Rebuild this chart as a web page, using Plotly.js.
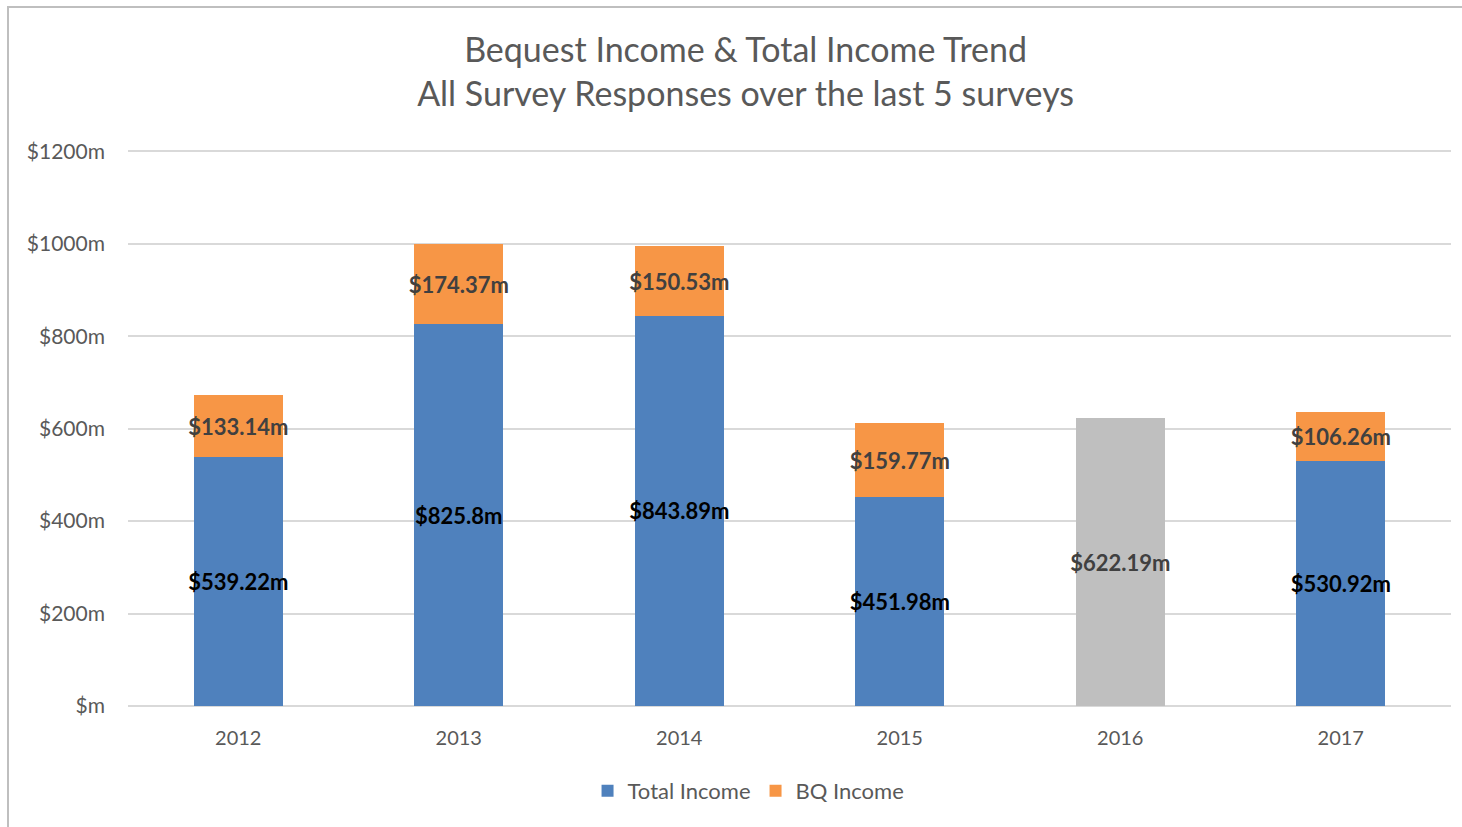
<!DOCTYPE html>
<html>
<head>
<meta charset="utf-8">
<script src="https://cdn.plot.ly/plotly-3.0.1.min.js"></script>
<style>
  html, body { margin: 0; padding: 0; background: #fff; }
  #chart { width: 1462px; height: 827px; }
  #frame { position: absolute; left: 7px; top: 6px; width: 1455px; height: 821px;
           border-left: 2px solid #BFBFBF; border-top: 2px solid #BFBFBF; pointer-events: none; }
</style>
</head>
<body>
<div id="chart"></div>
<div id="frame"></div>
<script>
const years = ['2012', '2013', '2014', '2015', '2016', '2017'];
const totalIncome = [539.22, 825.8, 843.89, 451.98, null, 530.92];
const bqIncome = [133.14, 174.37, 150.53, 159.77, null, 106.26];
const grayIncome = [null, null, null, null, 622.19, null];
const yTickVals = [0, 200, 400, 600, 800, 1000, 1200];
const yTickText = ['$m', '$200m', '$400m', '$600m', '$800m', '$1000m', '$1200m'];

const fmt = v => (v === null ? '' : '$' + v + 'm');
const FONT = 'Lato, "Open Sans", sans-serif';

const traces = [
  {
    type: 'bar', name: 'Total Income', x: years, y: totalIncome,
    marker: { color: '#4F81BD' },
    text: totalIncome.map(fmt), textposition: 'inside', insidetextanchor: 'middle',
    textangle: 0, constraintext: 'none',
    textfont: { family: FONT, size: 22, color: '#000000', weight: 'bold' },
    hoverinfo: 'x+y'
  },
  {
    type: 'bar', name: 'BQ Income', x: years, y: bqIncome,
    marker: { color: '#F79646' },
    text: bqIncome.map(fmt), textposition: 'inside', insidetextanchor: 'middle',
    textangle: 0, constraintext: 'none',
    textfont: { family: FONT, size: 22, color: '#404040', weight: 'bold' },
    hoverinfo: 'x+y'
  },
  {
    type: 'bar', name: '2016', x: years, y: grayIncome, showlegend: false,
    marker: { color: '#BFBFBF' },
    text: grayIncome.map(fmt), textposition: 'inside', insidetextanchor: 'middle',
    textangle: 0, constraintext: 'none',
    textfont: { family: FONT, size: 22, color: '#404040', weight: 'bold' },
    hoverinfo: 'x+y'
  }
];

const layout = {
  width: 1462, height: 827,
  barmode: 'stack', bargap: 0.596,
  paper_bgcolor: '#ffffff', plot_bgcolor: '#ffffff',
  margin: { l: 128, r: 11, t: 150, b: 121, autoexpand: false },
  font: { family: FONT, color: '#595959' },
  title: {
    text: 'Bequest Income & Total Income Trend<br>All Survey Responses over the last 5 surveys',
    font: { family: FONT, size: 34, color: '#595959' },
    x: 0.51, xref: 'container', xanchor: 'center',
    y: 0.925, yref: 'container', yanchor: 'top'
  },
  xaxis: {
    type: 'category', showgrid: false, zeroline: false, showline: false,
    ticks: '', tickfont: { family: FONT, size: 20, color: '#595959' },
    ticklabelstandoff: 18
  },
  yaxis: {
    range: [0, 1203], tickvals: yTickVals, ticktext: yTickText,
    showgrid: true, gridcolor: '#D9D9D9', gridwidth: 2,
    zeroline: true, zerolinecolor: '#D9D9D9', zerolinewidth: 2,
    showline: false, ticks: '',
    tickfont: { family: FONT, size: 21, color: '#595959' },
    ticklabelstandoff: 22
  },
  legend: {
    orientation: 'h', xref: 'container', x: 0.512, xanchor: 'center',
    yref: 'container', y: 1 - 791 / 827, yanchor: 'middle',
    font: { family: FONT, size: 22, color: '#595959' },
    traceorder: 'normal', itemwidth: 30
  },
  showlegend: true
};

Plotly.newPlot('chart', traces, layout, { displayModeBar: false, staticPlot: true });
</script>
</body>
</html>
